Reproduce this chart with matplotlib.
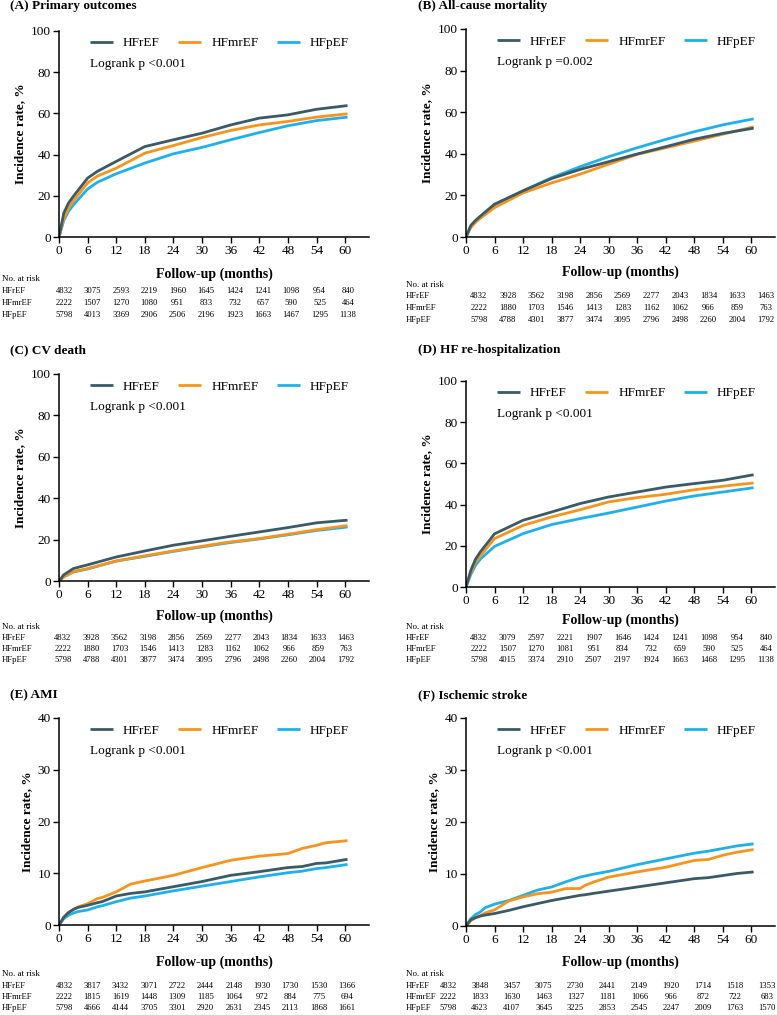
import matplotlib
matplotlib.use("Agg")
import matplotlib.pyplot as plt
import numpy as np

plt.rcParams['font.family'] = ['Liberation Serif', 'DejaVu Serif']

W, H = 777, 1015

groups = ["HFrEF", "HFmrEF", "HFpEF"]
colors = {"HFrEF": "#3a5a68", "HFmrEF": "#f7941d", "HFpEF": "#1fb0ea"}
time_ticks = [0, 6, 12, 18, 24, 30, 36, 42, 48, 54, 60]

# ---------------- curve data (months, cumulative incidence %) ----------------
A_t = [0, 1, 2, 3, 6, 8, 12, 18, 24, 30, 36, 42, 48, 54, 60.5]
A_rEF = [0, 11.6, 16.5, 19.7, 28.6, 31.8, 36.7, 43.9, 47.2, 50.4, 54.4, 57.7, 59.3, 62.0, 63.8]
A_mrEF = [0, 9.0, 14.0, 17.5, 26.2, 29.5, 33.4, 40.7, 44.4, 48.3, 51.7, 54.4, 56.1, 58.2, 59.8]
A_pEF = [0, 8.0, 12.5, 15.5, 23.3, 26.5, 30.7, 35.9, 40.4, 43.5, 47.2, 50.7, 54.0, 56.5, 58.2]

B_t = [0, 1, 2, 3, 6, 12, 18, 24, 30, 36, 42, 48, 54, 60.5]
B_rEF = [0, 5.5, 8.0, 10.0, 15.8, 22.2, 28.1, 32.5, 36.2, 39.9, 43.4, 47.0, 49.8, 52.3]
B_mrEF = [0, 4.5, 7.0, 9.0, 14.1, 21.2, 26.0, 30.2, 35.0, 39.7, 42.9, 46.1, 49.4, 53.0]
B_pEF = [0, 5.0, 7.5, 9.5, 15.3, 22.2, 28.5, 33.8, 38.6, 42.9, 46.9, 50.6, 53.9, 56.8]

C_t = [0, 1, 3, 6, 12, 18, 24, 30, 36, 42, 48, 54, 60.5]
C_rEF = [0, 3.0, 6.0, 7.8, 11.6, 14.5, 17.3, 19.4, 21.6, 23.7, 25.8, 28.1, 29.4]
C_mrEF = [0, 2.0, 4.5, 6.0, 9.7, 12.2, 14.5, 16.8, 18.9, 20.5, 22.6, 24.8, 26.8]
C_pEF = [0, 2.0, 4.3, 5.8, 9.6, 11.9, 14.3, 16.5, 18.6, 20.3, 22.3, 24.4, 26.1]

D_t = [0, 1, 2, 3, 6, 12, 18, 24, 30, 36, 42, 48, 54, 60.5]
D_rEF = [0, 8.0, 13.5, 17.0, 25.8, 32.4, 36.4, 40.5, 43.7, 46.1, 48.5, 50.2, 51.8, 54.5]
D_mrEF = [0, 7.0, 12.0, 15.0, 23.5, 29.9, 34.0, 37.5, 41.3, 43.4, 45.0, 47.2, 48.9, 50.5]
D_pEF = [0, 6.0, 10.5, 13.5, 19.7, 25.9, 30.3, 33.2, 35.9, 38.8, 41.7, 44.2, 46.1, 48.2]

E_t = [0, 1, 2, 3, 4, 6, 8, 9, 12, 15, 18, 24, 30, 36, 42, 48, 51, 54, 56, 60.5]
E_rEF = [0, 1.5, 2.4, 3.0, 3.4, 3.8, 4.3, 4.5, 5.6, 6.1, 6.4, 7.4, 8.4, 9.6, 10.3, 11.1, 11.3, 11.9, 12.0, 12.7]
E_mrEF = [0, 1.5, 2.4, 3.0, 3.5, 4.1, 5.1, 5.3, 6.4, 7.9, 8.5, 9.6, 11.1, 12.5, 13.3, 13.8, 14.8, 15.4, 15.9, 16.3]
E_pEF = [0, 1.2, 1.9, 2.3, 2.6, 2.9, 3.5, 3.7, 4.5, 5.2, 5.6, 6.6, 7.5, 8.4, 9.3, 10.1, 10.4, 10.9, 11.1, 11.7]

F_t = [0, 1, 2, 3, 4, 6, 9, 12, 15, 18, 21, 24, 25, 27, 30, 36, 42, 48, 51, 54, 57, 60.5]
F_rEF = [0, 1.2, 1.6, 1.9, 2.1, 2.4, 3.0, 3.7, 4.3, 4.9, 5.4, 5.9, 6.0, 6.3, 6.7, 7.5, 8.3, 9.1, 9.3, 9.7, 10.1, 10.4]
F_mrEF = [0, 1.0, 1.6, 2.0, 2.5, 3.1, 4.8, 5.6, 6.2, 6.5, 7.2, 7.2, 7.8, 8.5, 9.4, 10.4, 11.3, 12.6, 12.8, 13.6, 14.2, 14.7]
F_pEF = [0, 1.4, 2.2, 2.7, 3.5, 4.2, 4.9, 5.9, 6.9, 7.5, 8.5, 9.4, 9.6, 10.0, 10.5, 11.8, 12.9, 14.0, 14.4, 14.9, 15.4, 15.8]

# ---------------- numbers at risk ----------------
A_risk = {"HFrEF": [4832, 3075, 2593, 2219, 1960, 1645, 1424, 1241, 1098, 954, 840],
          "HFmrEF": [2222, 1507, 1270, 1080, 951, 833, 732, 657, 590, 525, 464],
          "HFpEF": [5798, 4013, 3369, 2906, 2506, 2196, 1923, 1663, 1467, 1295, 1138]}
B_risk = {"HFrEF": [4832, 3928, 3562, 3198, 2856, 2569, 2277, 2043, 1834, 1633, 1463],
          "HFmrEF": [2222, 1880, 1703, 1546, 1413, 1283, 1162, 1062, 966, 859, 763],
          "HFpEF": [5798, 4788, 4301, 3877, 3474, 3095, 2796, 2498, 2260, 2004, 1792]}
C_risk = {"HFrEF": [4832, 3928, 3562, 3198, 2856, 2569, 2277, 2043, 1834, 1633, 1463],
          "HFmrEF": [2222, 1880, 1703, 1546, 1413, 1283, 1162, 1062, 966, 859, 763],
          "HFpEF": [5798, 4788, 4301, 3877, 3474, 3095, 2796, 2498, 2260, 2004, 1792]}
D_risk = {"HFrEF": [4832, 3079, 2597, 2221, 1907, 1646, 1424, 1241, 1098, 954, 840],
          "HFmrEF": [2222, 1507, 1270, 1081, 951, 834, 732, 659, 590, 525, 464],
          "HFpEF": [5798, 4015, 3374, 2910, 2507, 2197, 1924, 1663, 1468, 1295, 1138]}
E_risk = {"HFrEF": [4832, 3817, 3432, 3071, 2722, 2444, 2148, 1930, 1730, 1530, 1366],
          "HFmrEF": [2222, 1815, 1619, 1448, 1309, 1185, 1064, 972, 884, 775, 694],
          "HFpEF": [5798, 4666, 4144, 3705, 3301, 2920, 2631, 2345, 2113, 1868, 1661]}
F_risk = {"HFrEF": [4832, 3848, 3457, 3075, 2730, 2441, 2149, 1920, 1714, 1518, 1353],
          "HFmrEF": [2222, 1833, 1630, 1463, 1327, 1181, 1066, 966, 872, 722, 683],
          "HFpEF": [5798, 4623, 4107, 3645, 3225, 2853, 2545, 2247, 2009, 1763, 1570]}

titles = ["(A) Primary outcomes", "(B) All-cause mortality", "(C) CV death",
          "(D) HF re-hospitalization", "(E) AMI", "(F) Ischemic stroke"]
pvals = ["Logrank p <0.001", "Logrank p =0.002", "Logrank p <0.001",
         "Logrank p <0.001", "Logrank p <0.001", "Logrank p <0.001"]

panels = [
    (A_t, A_rEF, A_mrEF, A_pEF, A_risk),
    (B_t, B_rEF, B_mrEF, B_pEF, B_risk),
    (C_t, C_rEF, C_mrEF, C_pEF, C_risk),
    (D_t, D_rEF, D_mrEF, D_pEF, D_risk),
    (E_t, E_rEF, E_mrEF, E_pEF, E_risk),
    (F_t, F_rEF, F_mrEF, F_pEF, F_risk),
]

# layout in pixels: left, right, top, bottom, ymax, ystep
layout = [
    (59, 369, 31, 237, 100, 20),
    (466, 775, 29, 237, 100, 20),
    (59, 369, 374, 581, 100, 20),
    (466, 775, 381, 587, 100, 20),
    (59, 369, 718, 925, 40, 10),
    (466, 775, 718, 926, 40, 10),
]
# title position (x, y)
title_pos = [(10, 6), (418, 6), (10, 350), (418, 350), (10, 695), (418, 695)]
# table: followup y, no-at-risk y, row ys, col x start, col x end, label x
table_pos = [
    (274, 279, [291, 303, 315], 64, 348, 2),
    (272, 285, [296, 308, 320], 479, 766, 406),
    (616, 627, [638, 649, 660], 63, 346, 2),
    (620, 627, [638, 649, 660], 479, 766, 406),
    (962, 974, [986, 997, 1008], 64, 347, 2),
    (962, 974, [986, 997, 1008], 448, 767, 406),
]

fig = plt.figure(figsize=(W / 100, H / 100), dpi=100)


def fx(x):
    return x / W


def fy(y):
    return 1 - y / H


for i, (pan, lay) in enumerate(zip(panels, layout)):
    t, rEF, mrEF, pEF, risk = pan
    left, right, top, bottom, ymax, ystep = lay
    ax = fig.add_axes([fx(left), fy(bottom), (right - left) / W, (bottom - top) / H])
    series = {"HFrEF": rEF, "HFmrEF": mrEF, "HFpEF": pEF}
    for g in ["HFpEF", "HFmrEF", "HFrEF"]:
        ax.plot(t, series[g], color=colors[g], lw=2.0, label=g, solid_capstyle='butt')
    ax.set_xlim(0, 65)
    ax.set_ylim(0, ymax)
    ax.set_xticks(time_ticks)
    ax.set_yticks(np.arange(0, ymax + 1, ystep))
    for s in ["top", "right"]:
        ax.spines[s].set_visible(False)
    for s in ["left", "bottom"]:
        ax.spines[s].set_linewidth(1.1)
    ax.tick_params(direction='out', length=4, width=1.0, labelsize=9.5, pad=2)
    ax.set_ylabel("Incidence rate, %", fontsize=9.5, fontweight='bold', labelpad=3)
    handles, labels = ax.get_legend_handles_labels()
    order = [labels.index(g) for g in groups]
    ax.legend([handles[k] for k in order], groups, ncol=3, loc='center left',
              bbox_to_anchor=(0.1, 0.94), frameon=False, fontsize=9.5,
              handlelength=1.75, handletextpad=0.75, columnspacing=1.4,
              borderaxespad=0, borderpad=0)
    ax.text(0.1, 0.84, pvals[i], transform=ax.transAxes, fontsize=9.5,
            va='center', ha='left')
    # title
    tx, ty = title_pos[i]
    fig.text(fx(tx), fy(ty), titles[i], fontsize=9.5, fontweight='bold',
             ha='left', va='center')
    # follow-up label and risk table
    fu_y, nar_y, row_ys, cx0, cx1, lx = table_pos[i]
    fig.text(fx((left + right) / 2), fy(fu_y), "Follow-up (months)", fontsize=10,
             fontweight='bold', ha='center', va='center')
    fig.text(fx(lx), fy(nar_y), "No. at risk", fontsize=6.5, ha='left', va='center')
    col_x = np.linspace(cx0, cx1, len(time_ticks))
    for g, ry in zip(groups, row_ys):
        fig.text(fx(lx), fy(ry), g, fontsize=6.2, ha='left', va='center')
        for cx, v in zip(col_x, risk[g]):
            fig.text(fx(cx), fy(ry), str(v), fontsize=6.2, ha='center', va='center')

fig.savefig("out.png", dpi=100)
